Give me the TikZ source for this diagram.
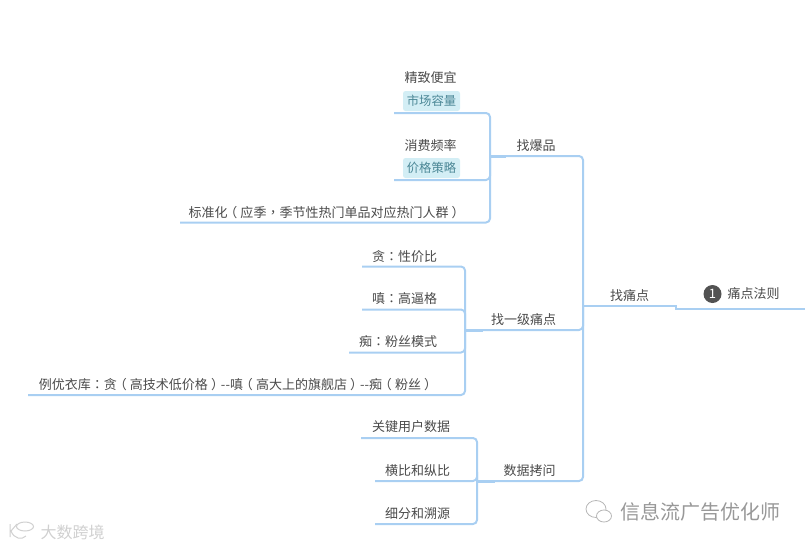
\documentclass[tikz,border=0pt]{standalone}
\usepackage{fontspec}
\setmainfont{Noto Sans CJK SC}
\newfontfamily\tcfont{Noto Sans CJK TC}
\newcommand{\cpunct}[1]{{\tcfont #1}}
\newcommand{\lparen}{\kern-3.2pt（\kern3.2pt}
\newcommand{\rparen}{\kern3.2pt）\kern-3.2pt}
\definecolor{linkc}{HTML}{A9CFF2}
\definecolor{txt}{HTML}{4A4A4A}
\definecolor{tagf}{HTML}{D3EEF5}
\definecolor{tagt}{HTML}{4B8796}
\definecolor{wm}{HTML}{989898}
\definecolor{wml}{HTML}{D0D0D0}
\tikzset{
  lab/.style={inner sep=0pt,text=txt,font=\fontsize{13}{13}\selectfont},
  tag/.style={inner sep=0pt,minimum width=57pt,minimum height=20pt,rounded corners=2.5pt,fill=tagf,text=tagt,font=\fontsize{12.3}{13}\selectfont},
  link/.style={draw=linkc,line width=2pt,rounded corners=4pt},
  stub/.style={draw=linkc,line width=3pt},
  wmark/.style={inner sep=0pt,text=wm,font=\fontsize{20}{20}\selectfont},
  wmarkl/.style={inner sep=0pt,text=wml,font=\fontsize{16}{16}\selectfont},
  badge/.style={circle,fill=black!68,text=white,inner sep=0pt,minimum size=18pt,font=\fontsize{13}{13}\selectfont},
  icon/.style={draw=wml,line width=1pt,fill=white},
  iconb/.style={draw=wm!70,line width=0.8pt,fill=white},
}
\begin{document}
\begin{tikzpicture}[x=1pt,y=-1pt]
\useasboundingbox (0,0) rectangle (805,547);
% anchors for connectors
\coordinate (root) at (805,308.5);
\coordinate (rootA) at (676,308.5);
\coordinate (rootB) at (676,306);
\coordinate (trunk) at (583,306);
\coordinate (jA) at (490,156);
\coordinate (jB) at (465,330);
\coordinate (jC) at (477,481);
\coordinate (a1) at (394,113);
\coordinate (a2) at (394,180);
\coordinate (a3) at (180,222.5);
\coordinate (b1) at (362,266.5);
\coordinate (b2) at (362,309.5);
\coordinate (b3) at (349,352.5);
\coordinate (b4) at (28,395);
\coordinate (c1) at (361,438);
\coordinate (c2) at (375,481);
\coordinate (c3) at (375,524);
\coordinate (jAs) at (506,156);
\coordinate (jBs) at (483,330);
\coordinate (jCs) at (495,481);
\coordinate (rs) at (600,306);
% connectors
\draw[link] (jA) -| (trunk);
\draw[link] (jB) -| (trunk);
\draw[link] (jC) -| (trunk);
\draw[link,rounded corners=0pt] (root) -- (rootA) -- (rootB) -- (trunk);
\draw[link] (a1) -| (jA);
\draw[link] (a2) -| (jA);
\draw[link] (a3) -| (jA);
\draw[link] (b1) -| (jB);
\draw[link] (b2) -| (jB);
\draw[link] (b3) -| (jB);
\draw[link] (b4) -| (jB);
\draw[link] (c1) -| (jC);
\draw[link] (c2) -| (jC);
\draw[link] (c3) -| (jC);
\draw[stub] (jA) -- (jAs);
\draw[stub] (jB) -- (jBs);
\draw[stub] (jC) -- (jCs);
\draw[stub,line width=2.5pt] (trunk) -- (rs);
% labels
\node[lab] (n1) at (430.5,78) {精致便宜};
\node[tag] (t1) at (431.5,101) {市场容量};
\node[lab] (n2) at (430.5,146) {消费频率};
\node[tag] (t2) at (431.5,168) {价格策略};
\node[lab] (n3) at (325,213) {标准化\lparen 应季\cpunct{，}季节性热门单品对应热门人群\rparen};
\node[lab] (gA) at (536,146) {找爆品};
\node[lab] (n4) at (404.5,256.5) {贪\cpunct{：}性价比};
\node[lab] (n5) at (404.5,299) {嗔\cpunct{：}高逼格};
\node[lab] (n6) at (398,342) {痴\cpunct{：}粉丝模式};
\node[lab] (n7) at (236.5,385) {例优衣库\cpunct{：}贪\lparen 高技术低价格\rparen{-}{-}嗔\lparen 高大上的旗舰店\rparen{-}{-}痴\lparen 粉丝\rparen};
\node[lab] (gB) at (523.5,320) {找一级痛点};
\node[lab] (n8) at (411,427) {关键用户数据};
\node[lab] (n9) at (417.5,471) {横比和纵比};
\node[lab] (n10) at (417.5,514) {细分和溯源};
\node[lab] (gC) at (529.5,471) {数据拷问};
\node[lab] (gD) at (629.5,296) {找痛点};
\node[badge] (bd) at (712.5,294) {1};
\node[lab] (rt) at (753.5,294) {痛点法则};
% watermarks
\node[wmark] (wm1) at (700,512) {信息流广告优化师};
\node[wmarkl] (wm2) at (72.5,532) {大数跨境};
\draw[iconb] (596,509) ellipse (10pt and 8.5pt);
\draw[iconb] (604,516) ellipse (7.5pt and 6pt);
\draw[icon] (10,524) -- (10,537) (11,531) -- (17,524) (11,531) .. controls (14,539) and (22,540) .. (26,536);
\draw[icon] (25,526.5) ellipse (8.5pt and 4.5pt);
\end{tikzpicture}
\end{document}
